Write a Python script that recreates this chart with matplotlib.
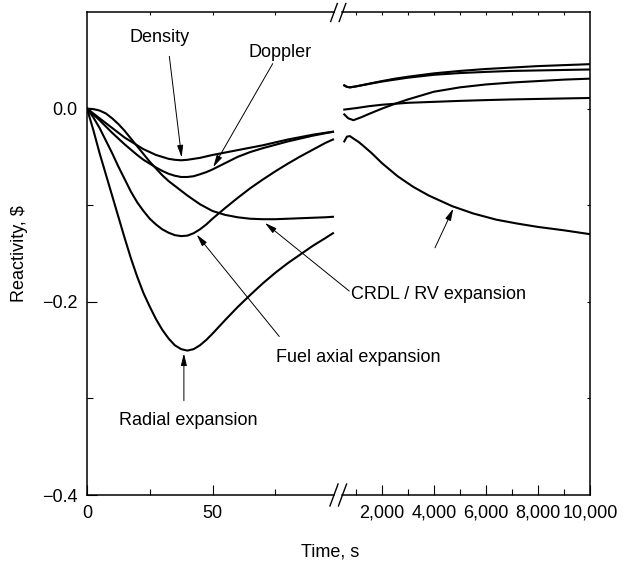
import matplotlib
matplotlib.use("Agg")
import matplotlib.pyplot as plt
from matplotlib.lines import Line2D
from matplotlib.ticker import FixedLocator, StrMethodFormatter

plt.rcParams["font.family"] = ["Liberation Sans", "DejaVu Sans"]
plt.rcParams["font.size"] = 13

# early transient, 0-100 s
t_left = [0, 2.5, 5, 7.5, 10, 12.5, 15, 17.5, 20, 22.5, 25, 27.5, 30, 32.5, 35,
          37.5, 40, 42.5, 45, 47.5, 50, 55, 60, 65, 70, 75, 80, 85, 90, 95, 98]
density = [0, -0.005, -0.010, -0.015, -0.020, -0.025, -0.030, -0.034, -0.038,
           -0.042, -0.045, -0.048, -0.050, -0.052, -0.053, -0.0535, -0.053,
           -0.052, -0.051, -0.0495, -0.048, -0.0455, -0.043, -0.0405, -0.038,
           -0.035, -0.032, -0.0295, -0.027, -0.025, -0.024]
doppler = [0, -0.006, -0.012, -0.0185, -0.025, -0.031, -0.037, -0.0425, -0.048,
           -0.053, -0.057, -0.061, -0.0645, -0.0675, -0.0695, -0.0708, -0.0708,
           -0.070, -0.068, -0.0658, -0.063, -0.0565, -0.050, -0.045, -0.041,
           -0.0375, -0.034, -0.031, -0.028, -0.0255, -0.024]
crdl = [0, -0.0005, -0.002, -0.005, -0.010, -0.016, -0.023, -0.031, -0.039,
        -0.047, -0.055, -0.062, -0.069, -0.075, -0.080, -0.085, -0.090, -0.0945,
        -0.099, -0.1025, -0.106, -0.110, -0.1125, -0.114, -0.1145, -0.1145,
        -0.114, -0.1135, -0.113, -0.1125, -0.112]
fuel_axial = [0, -0.009, -0.020, -0.033, -0.046, -0.060, -0.073, -0.086, -0.097,
              -0.106, -0.114, -0.120, -0.125, -0.1285, -0.131, -0.132, -0.1315,
              -0.129, -0.125, -0.120, -0.114, -0.103, -0.0925, -0.0825, -0.0735,
              -0.065, -0.057, -0.0495, -0.0425, -0.0355, -0.032]
radial = [0, -0.022, -0.046, -0.068, -0.090, -0.112, -0.134, -0.155, -0.174,
          -0.191, -0.205, -0.218, -0.229, -0.238, -0.245, -0.249, -0.2505,
          -0.249, -0.245, -0.2395, -0.233, -0.219, -0.2055, -0.193, -0.181,
          -0.170, -0.160, -0.151, -0.142, -0.134, -0.129]

# long term, up to 10,000 s
t_r_top = [550, 650, 770, 1000, 1500, 2000, 2500, 3000, 4000, 5000, 6000, 7000,
           8000, 9000, 10000]
right_a = [0.024, 0.0225, 0.022, 0.023, 0.0258, 0.0285, 0.031, 0.033, 0.0365,
           0.039, 0.041, 0.0425, 0.044, 0.045, 0.046]
right_b = [0.024, 0.0225, 0.022, 0.023, 0.0255, 0.028, 0.030, 0.032, 0.035,
           0.0368, 0.038, 0.039, 0.0395, 0.040, 0.0405]
t_r_flat = [550, 1000, 1500, 2000, 3000, 4000, 5000, 6000, 7000, 8000, 9000, 10000]
right_c = [-0.001, 0.0005, 0.0025, 0.004, 0.006, 0.007, 0.008, 0.0088, 0.0095,
           0.010, 0.0105, 0.011]
t_r_dip = [550, 700, 900, 1200, 1500, 2000, 2500, 3000, 4000, 5000, 6000, 7000,
           8000, 9000, 10000]
right_d = [-0.006, -0.010, -0.012, -0.009, -0.0055, 0.000, 0.005, 0.0095,
           0.0175, 0.022, 0.025, 0.027, 0.0285, 0.030, 0.031]
t_r_crdl = [550, 650, 770, 900, 1100, 1300, 1600, 2000, 2600, 3200, 3800, 4700,
            5500, 6400, 7200, 8000, 9000, 10000]
right_crdl = [-0.034, -0.029, -0.0285, -0.031, -0.0345, -0.039, -0.046,
              -0.0565, -0.070, -0.081, -0.090, -0.101, -0.1085, -0.115, -0.119,
              -0.1225, -0.126, -0.130]

W, H = 627, 568


def fx(px):
    return px / W


def fy(py):
    return 1 - py / H


fig = plt.figure(figsize=(W / 100, H / 100), dpi=100)
ax1 = fig.add_axes([fx(87), fy(495), fx(338) - fx(87), fy(12) - fy(495)])
ax2 = fig.add_axes([fx(338), fy(495), fx(590) - fx(338), fy(12) - fy(495)])
ax2.patch.set_visible(False)

lw = 1.5
for ys in (density, doppler, crdl, fuel_axial, radial):
    ax1.plot(t_left, ys, color="black", lw=lw)
for ts, ys in ((t_r_top, right_a), (t_r_top, right_b), (t_r_flat, right_c),
               (t_r_dip, right_d), (t_r_crdl, right_crdl)):
    ax2.plot(ts, ys, color="black", lw=lw)

for ax in (ax1, ax2):
    ax.set_ylim(-0.4, 0.1)
    for s in ax.spines.values():
        s.set_linewidth(1.1)
ax1.set_xlim(0, 100)
ax2.set_xlim(308, 10000)

ax1.spines["right"].set_visible(False)
ax2.spines["left"].set_visible(False)
ax1.spines["bottom"].set_bounds(0, 98.4)
ax1.spines["top"].set_bounds(0, 98.4)
ax2.spines["bottom"].set_bounds(481, 10000)
ax2.spines["top"].set_bounds(481, 10000)

# ticks
ax1.xaxis.set_major_locator(FixedLocator([0, 50]))
ax1.xaxis.set_minor_locator(FixedLocator([25, 75]))
ax1.yaxis.set_major_locator(FixedLocator([-0.4, -0.2, 0.0]))
ax1.yaxis.set_minor_locator(FixedLocator([-0.3, -0.1]))
ax1.tick_params(which="major", direction="in", length=7, width=0.8, pad=7)
ax1.tick_params(which="minor", direction="in", length=4, width=0.8)

ax2.xaxis.set_major_locator(FixedLocator([2000, 4000, 6000, 8000, 10000]))
ax2.xaxis.set_minor_locator(FixedLocator([1000, 3000, 5000, 7000, 9000]))
ax2.xaxis.set_major_formatter(StrMethodFormatter("{x:,.0f}"))
ax2.tick_params(which="major", direction="in", length=7, width=0.8, pad=7)
ax2.tick_params(which="minor", direction="in", length=4, width=0.8)
ax2.tick_params(axis="y", which="both", left=False, right=False,
                labelleft=False, labelright=False)

# short ticks on top and right edges
sec1 = ax1.secondary_xaxis("top")
sec1.set_xticks([25, 50, 75], labels=[])
sec1.tick_params(direction="in", length=2.5, width=0.8)
sec2 = ax2.secondary_xaxis("top")
sec2.set_xticks([1000, 2000, 3000, 4000, 5000, 6000, 7000, 8000, 9000], labels=[])
sec2.tick_params(direction="in", length=2.5, width=0.8)
sec3 = ax2.secondary_yaxis("right")
sec3.set_yticks([-0.3, -0.2, -0.1, 0.0], labels=[])
sec3.tick_params(direction="in", length=2.5, width=0.8)
for sec in (sec1, sec2, sec3):
    for s in sec.spines.values():
        s.set_visible(False)

# axis break marks
for y0, hh in ((495, 11), (12.5, 9)):
    for xc in (334, 342.5):
        dx = hh * 0.37
        fig.add_artist(Line2D([fx(xc - dx), fx(xc + dx)], [fy(y0 + hh), fy(y0 - hh)],
                              transform=fig.transFigure, color="black", lw=1.0))

fig.text(fx(330), fy(552), "Time, s", ha="center", va="center")
fig.text(fx(20), fy(254), "Reactivity, $", ha="center", va="center", rotation=90)

arrow = dict(arrowstyle="-|>,head_length=0.6,head_width=0.15", color="black",
             lw=0.7, mutation_scale=12, shrinkA=0, shrinkB=0)


def note(ax, tail, tip):
    ax.annotate("", xy=tip, xytext=tail, arrowprops=arrow, annotation_clip=False)


ax1.text(28.8, 0.0732, "Density", ha="center", va="center")
note(ax1, (32.8, 0.0541), (37.7, -0.0505))
ax1.text(77.1, 0.0577, "Doppler", ha="center", va="center")
note(ax1, (74.0, 0.0466), (50.3, -0.0605))
ax1.text(105.2, -0.1923, "CRDL / RV expansion", ha="left", va="center", clip_on=False)
note(ax1, (104.5, -0.1889), (70.9, -0.1184))
note(ax2, (4038, -0.1441), (4742, -0.1035))
ax1.text(75.3, -0.2572, "Fuel axial expansion", ha="left", va="center", clip_on=False)
note(ax1, (76.6, -0.2359), (43.7, -0.1305))
ax1.text(40.4, -0.3227, "Radial expansion", ha="center", va="center")
note(ax1, (38.6, -0.3023), (38.6, -0.2535))

fig.savefig("out.png", dpi=100)
